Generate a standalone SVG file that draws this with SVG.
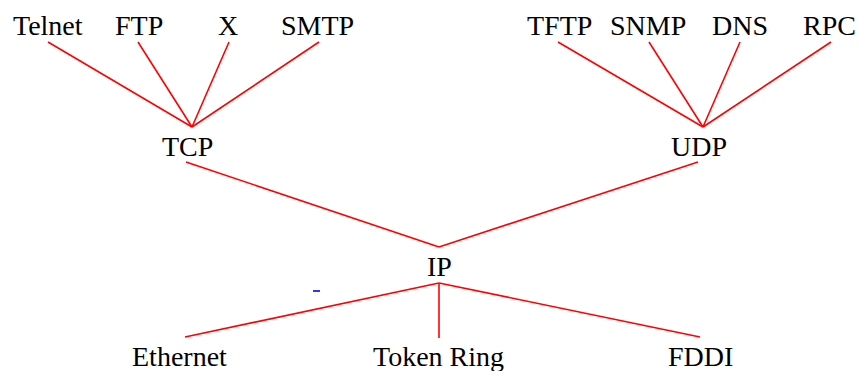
<svg xmlns="http://www.w3.org/2000/svg" width="859" height="371" viewBox="0 0 859 371">
<style>
text{font-family:"Liberation Serif","Times New Roman",serif;font-size:28px;fill:#000}
.c line{stroke:#ff0000;stroke-width:1.6;fill:none}
</style>
<rect width="859" height="371" fill="#fff"/>
<g class="c" id="connectors">
<line x1="48" y1="42" x2="192" y2="127"/>
<line x1="138" y1="42" x2="192" y2="127"/>
<line x1="229" y1="42" x2="192" y2="127"/>
<line x1="319" y1="42" x2="192" y2="127"/>
<line x1="558" y1="42" x2="703" y2="127"/>
<line x1="649" y1="42" x2="703" y2="127"/>
<line x1="740" y1="42" x2="703" y2="127"/>
<line x1="831" y1="42" x2="703" y2="127"/>
<line x1="186" y1="162" x2="439" y2="247"/>
<line x1="698" y1="162" x2="439" y2="247"/>
<line x1="439" y1="283" x2="185" y2="337"/>
<line x1="439" y1="283" x2="439" y2="338"/>
<line x1="439" y1="283" x2="700" y2="337"/>
</g>
<line x1="313" y1="291" x2="320" y2="291" stroke="#0000ff" stroke-width="1.6"/>
<g id="telnet"><text x="13" y="35">Telnet</text></g>
<g id="ftp"><text x="115" y="35">FTP</text></g>
<g id="x"><text x="218" y="35">X</text></g>
<g id="smtp"><text x="281" y="35">SMTP</text></g>
<g id="tftp"><text x="527" y="35">TFTP</text></g>
<g id="snmp"><text x="610" y="35">SNMP</text></g>
<g id="dns"><text x="712" y="35">DNS</text></g>
<g id="rpc"><text x="803" y="35">RPC</text></g>
<g id="tcp"><text x="162" y="156">TCP</text></g>
<g id="udp"><text x="671" y="156">UDP</text></g>
<g id="ip"><text x="427" y="276">IP</text></g>
<g id="ethernet"><text x="132" y="366">Ethernet</text></g>
<g id="tokenring"><text x="373" y="366">Token Ring</text></g>
<g id="fddi"><text x="668" y="366">FDDI</text></g>
</svg>
